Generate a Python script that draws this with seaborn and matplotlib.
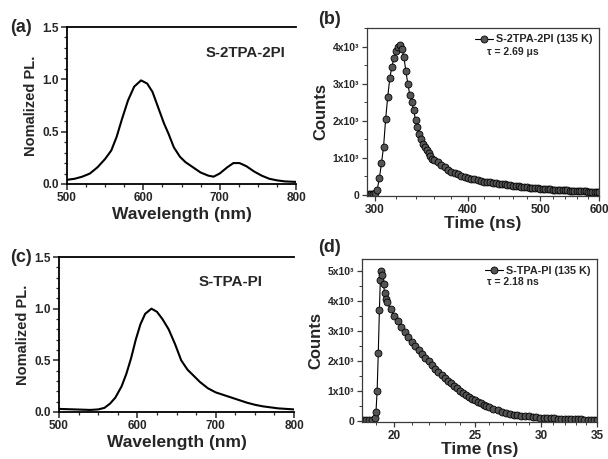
import numpy as np
import pandas as pd
import matplotlib
matplotlib.use("Agg")
import matplotlib.pyplot as plt
import seaborn as sns
from matplotlib.ticker import FixedLocator, FuncFormatter, MultipleLocator, NullFormatter

# ---------------- data ----------------
wl_a = [500, 510, 520, 530, 540, 550, 558, 565, 572, 580, 588, 597, 605, 612, 620, 627, 633, 640,
        648, 655, 665, 675, 685, 692, 700, 710, 718, 726, 735, 745, 755, 765, 775, 785, 800]
pl_a = [0.04, 0.05, 0.07, 0.10, 0.16, 0.24, 0.32, 0.45, 0.62, 0.80, 0.93, 0.99, 0.96, 0.88, 0.72, 0.58,
        0.48, 0.35, 0.26, 0.21, 0.16, 0.11, 0.08, 0.07, 0.10, 0.16, 0.20, 0.20, 0.17, 0.12, 0.08, 0.05,
        0.035, 0.025, 0.02]

wl_c = [500, 520, 540, 550, 558, 565, 572, 580, 586, 592, 598, 604, 610, 618, 625, 632, 640, 648, 656,
        664, 672, 680, 690, 700, 710, 720, 730, 740, 750, 760, 770, 780, 790, 800]
pl_c = [0.03, 0.025, 0.02, 0.025, 0.04, 0.08, 0.14, 0.25, 0.37, 0.52, 0.70, 0.85, 0.95, 1.0, 0.97, 0.90,
        0.80, 0.66, 0.50, 0.41, 0.35, 0.29, 0.23, 0.19, 0.165, 0.14, 0.115, 0.09, 0.07, 0.055, 0.045,
        0.035, 0.03, 0.025]

t_b = [292, 294, 296, 298, 300, 302, 304, 306, 308, 310, 312, 314, 316, 318, 320, 322, 324, 326, 328,
       330, 332, 334, 336, 338, 340, 342, 344, 346, 348, 350, 352, 354, 356, 358, 360,
       364, 368, 372, 376, 380, 384, 388, 392, 396, 400, 404, 408, 412, 416, 420, 424, 428, 432, 436,
       440, 444, 448, 452, 456, 460, 464, 468, 472, 476, 480, 484, 488, 492, 496, 500, 504, 508, 512,
       516, 520, 524, 528, 532, 536, 540, 544, 548, 552, 556, 560, 564, 568, 572, 576, 580, 584, 588,
       592, 596, 600]
counts_b_k = [0.02, 0.02, 0.02, 0.03, 0.05, 0.14, 0.45, 0.85, 1.3, 2.05, 2.65, 3.15, 3.45, 3.68, 3.88,
              4.0, 4.03, 3.93, 3.72, 3.33, 3.0, 2.7, 2.5, 2.3, 2.02, 1.82, 1.65, 1.52, 1.38, 1.3, 1.2,
              1.12, 1.05, 0.98, 0.94,
              0.88, 0.80, 0.74, 0.67, 0.63, 0.59, 0.55, 0.52, 0.49, 0.46, 0.44, 0.42, 0.40, 0.38, 0.36,
              0.35, 0.34, 0.32, 0.31, 0.30, 0.295, 0.285, 0.27, 0.26, 0.25, 0.24, 0.23, 0.225, 0.21,
              0.20, 0.195, 0.19, 0.185, 0.175, 0.17, 0.165, 0.16, 0.155, 0.15, 0.145, 0.14, 0.135, 0.13,
              0.125, 0.12, 0.12, 0.115, 0.11, 0.11, 0.105, 0.10, 0.10, 0.095, 0.095, 0.09, 0.09, 0.085,
              0.085, 0.08, 0.08]

t_d = [18.35, 18.5, 18.65, 18.8, 18.95, 19.02, 19.08, 19.14, 19.2, 19.25, 19.3, 19.36, 19.42, 19.48,
       19.54, 19.6, 19.8, 20.0, 20.2, 20.4, 20.6, 20.8, 21.0, 21.2, 21.4, 21.6, 21.8, 22.0, 22.2, 22.4,
       22.6, 22.8, 23.0, 23.2, 23.4, 23.6, 23.8, 24.0, 24.2, 24.4, 24.6, 24.8, 25.0, 25.2, 25.4, 25.6,
       25.8, 26.0, 26.3, 26.6, 26.9, 27.2, 27.5, 27.8, 28.1, 28.4, 28.7, 29.0, 29.3, 29.6, 29.9, 30.2,
       30.5, 30.8, 31.1, 31.4, 31.7, 32.0, 32.3, 32.6, 32.9, 33.2, 33.5, 33.8, 34.1, 34.4, 34.7, 35.0]
counts_d_k = [0.02, 0.02, 0.03, 0.04, 0.08, 0.30, 1.0, 2.25, 3.7, 4.7, 5.0, 4.87, 4.55, 4.25, 4.05,
              3.96, 3.72, 3.50, 3.32, 3.14, 2.97, 2.80, 2.63, 2.49, 2.35, 2.22, 2.10, 1.98, 1.86, 1.74,
              1.63, 1.53, 1.43, 1.34, 1.25, 1.16, 1.08, 1.00, 0.93, 0.86, 0.80, 0.74, 0.68, 0.63, 0.58,
              0.53, 0.49, 0.45, 0.40, 0.35, 0.31, 0.27, 0.24, 0.21, 0.19, 0.17, 0.16, 0.145, 0.13, 0.12,
              0.11, 0.10, 0.095, 0.09, 0.08, 0.075, 0.07, 0.065, 0.06, 0.055, 0.05, 0.045, 0.045, 0.04,
              0.04, 0.035, 0.03, 0.03]

name_a = "S-2TPA-2PI"
name_c = "S-TPA-PI"
legend_b = "S-2TPA-2PI (135 K)"
legend_d = "S-TPA-PI (135 K)"
tau_b = "\u03c4 = 2.69 \u03bcs"
tau_d = "\u03c4 = 2.18 ns"

# ---------------- style ----------------
sns.set_theme(style="ticks")
plt.rcParams["font.family"] = ["Liberation Sans", "DejaVu Sans"]
plt.rcParams["font.weight"] = "bold"
plt.rcParams["axes.labelweight"] = "bold"

W, H = 608, 459
fig = plt.figure(figsize=(W / 100, H / 100), dpi=100)
fig.patch.set_facecolor("white")


def px_axes(l, t, r, b):
    return fig.add_axes([l / W, 1 - b / H, (r - l) / W, (b - t) / H])


ax_a = px_axes(67, 27, 296, 184)
ax_b = px_axes(367, 28, 599, 196)
ax_c = px_axes(59, 257, 294, 412)
ax_d = px_axes(362, 259, 597, 422)


def style_pl(ax, x, y, name, nx, ny, nsize):
    sns.lineplot(x=x, y=y, ax=ax, color="black", linewidth=1.5, sort=False)
    ax.set_xlim(500, 800)
    ax.set_ylim(0, 1.5)
    ax.xaxis.set_major_locator(FixedLocator([500, 600, 700, 800]))
    ax.xaxis.set_minor_locator(MultipleLocator(25))
    ax.yaxis.set_major_locator(FixedLocator([0.0, 0.5, 1.0, 1.5]))
    ax.yaxis.set_minor_locator(MultipleLocator(0.1))
    ax.yaxis.set_major_formatter(FuncFormatter(lambda v, p: f"{v:.1f}"))
    ax.set_xlabel("Wavelength (nm)", fontsize=12.5, fontweight="bold", labelpad=2)
    ax.set_ylabel("Nomalized PL.", fontsize=10.5, fontweight="bold", labelpad=3)
    for s in ax.spines.values():
        s.set_linewidth(1.3)
        s.set_color("black")
    ax.spines["right"].set_visible(False)
    ax.tick_params(which="major", direction="out", length=4, width=1.1, labelsize=8.5, pad=2)
    ax.tick_params(which="minor", direction="out", length=2.2, width=0.9)
    for lab in ax.get_xticklabels() + ax.get_yticklabels():
        lab.set_fontweight("bold")
    ax.text(nx, ny, name, transform=ax.transAxes, fontsize=nsize, fontweight="bold",
            ha="center", va="center")


style_pl(ax_a, wl_a, pl_a, name_a, 0.78, 0.835, 10.8)
style_pl(ax_c, wl_c, pl_c, name_c, 0.73, 0.84, 11)


def count_fmt(v, p):
    if abs(v) < 1e-9:
        return "0"
    return f"{int(round(v / 1000))}x10\u00b3"


def style_trpl(ax, t, c_k, leg, tau, xlim, xmaj, xmin, ylim, ymaj, tau_xy):
    df = pd.DataFrame({"t": t, "c": np.array(c_k) * 1000})
    sns.lineplot(data=df, x="t", y="c", ax=ax, color="black", linewidth=0.8, sort=False,
                 marker="o", markersize=5, markerfacecolor="#555555",
                 markeredgecolor="black", markeredgewidth=0.6, label=leg)
    ax.set_xscale("log")
    ax.set_xlim(*xlim)
    ax.set_ylim(*ylim)
    ax.xaxis.set_major_locator(FixedLocator(xmaj))
    ax.xaxis.set_major_formatter(FuncFormatter(lambda v, p: f"{v:g}"))
    ax.xaxis.set_minor_locator(FixedLocator(xmin))
    ax.xaxis.set_minor_formatter(NullFormatter())
    ax.yaxis.set_major_locator(FixedLocator(ymaj))
    ax.yaxis.set_minor_locator(MultipleLocator(500))
    ax.yaxis.set_major_formatter(FuncFormatter(count_fmt))
    ax.set_xlabel("Time (ns)", fontsize=12.5, fontweight="bold", labelpad=0)
    ax.set_ylabel("Counts", fontsize=12, fontweight="bold", labelpad=3)
    for s in ax.spines.values():
        s.set_linewidth(0.9)
        s.set_color("#3a3a3a")
    ax.tick_params(which="major", direction="out", length=3.5, width=0.9, labelsize=8, pad=2,
                   color="#3a3a3a")
    ax.tick_params(which="minor", direction="out", length=2, width=0.7, color="#3a3a3a")
    for lab in ax.get_xticklabels():
        lab.set_fontweight("bold")
        lab.set_fontsize(8.5)
    for lab in ax.get_yticklabels():
        lab.set_fontweight("bold")
        lab.set_fontsize(7.5)
    ax.legend(loc="upper right", frameon=False, handlelength=1.6,
              handletextpad=0.3, borderaxespad=0.2,
              prop={"weight": "bold", "size": 7.8})
    ax.text(tau_xy[0], tau_xy[1], tau, transform=ax.transAxes, fontsize=7.5, fontweight="bold",
            ha="center", va="center")


style_trpl(ax_b, t_b, counts_b_k, legend_b, tau_b, (292.6, 600), [300, 400, 500, 600],
           [v for v in range(300, 601, 20) if v % 100], (-30, 4500), [0, 1000, 2000, 3000, 4000],
           (0.63, 0.855))
style_trpl(ax_d, t_d, counts_d_k, legend_d, tau_d, (18.3, 35), [20, 25, 30, 35],
           [v for v in range(19, 36) if v % 5], (-40, 5400), [0, 1000, 2000, 3000, 4000, 5000],
           (0.64, 0.86))

# panel labels
for lbl, x, y in [("(a)", 10, 27), ("(b)", 318, 20), ("(c)", 10, 257), ("(d)", 318, 248)]:
    fig.text(x / W, 1 - y / H, lbl, fontsize=13, fontweight="bold", ha="left", va="center")

fig.savefig("out.png", dpi=100, facecolor="white")
